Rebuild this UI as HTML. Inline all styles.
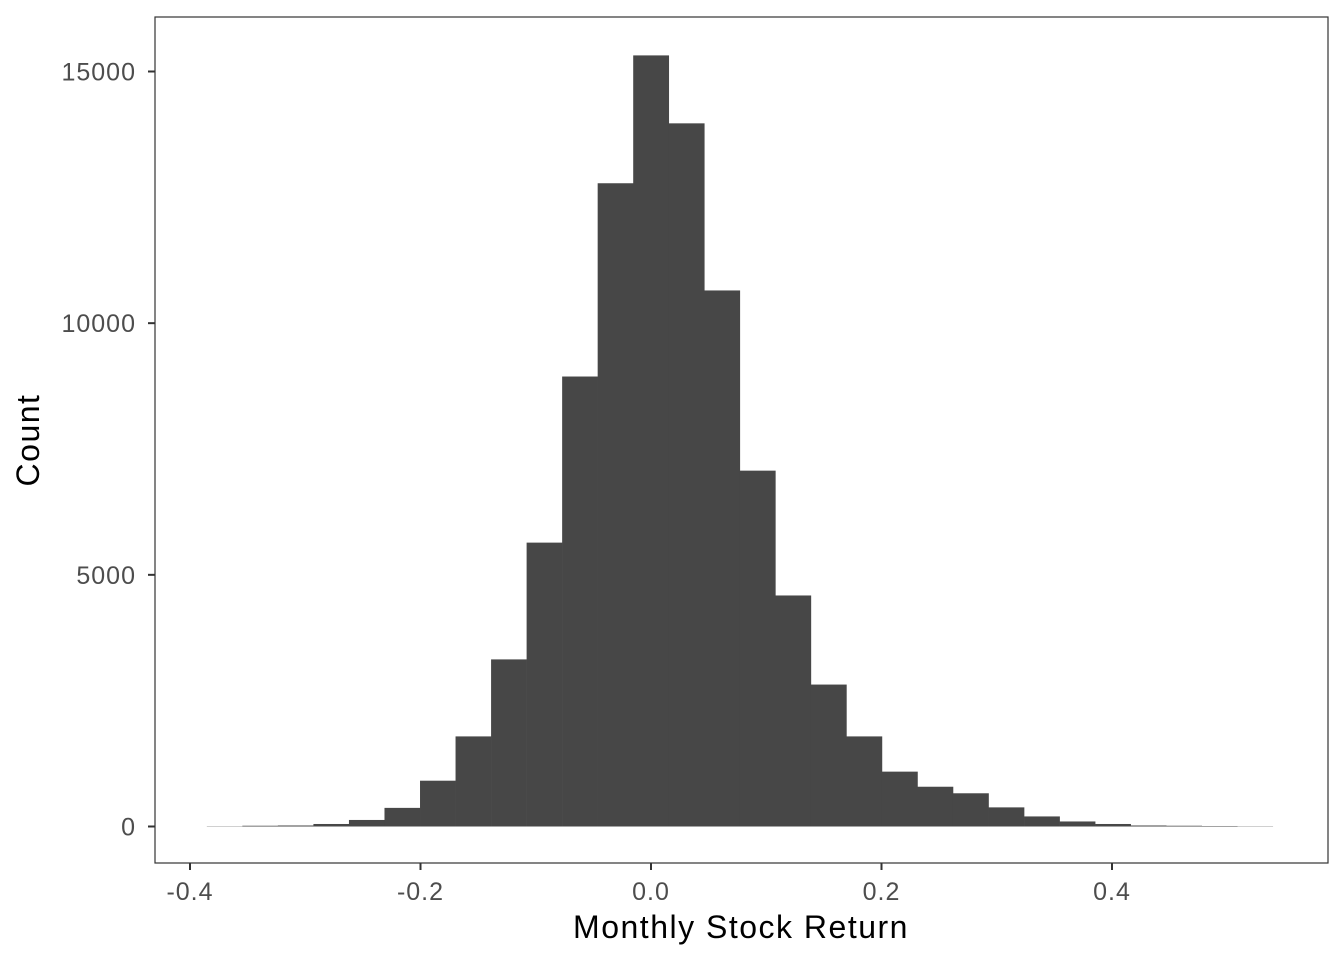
<!DOCTYPE html>
<html><head><meta charset="utf-8"><style>
body{margin:0;background:#fff}
svg text{font-family:"Liberation Sans",sans-serif}
</style></head><body>
<svg width="1344" height="960" xmlns="http://www.w3.org/2000/svg">
<rect x="0" y="0" width="1344" height="960" fill="#fff"/>
<g id="bars"></g>
<rect x="155" y="17" width="1173" height="846" fill="none" stroke="#333" stroke-width="1.2"/>
<g id="axes"></g>
<text x="741" y="938" font-size="32" letter-spacing="1.5" text-anchor="middle" fill="#000">Monthly Stock Return</text>
<text transform="translate(39,440) rotate(-90)" font-size="32" letter-spacing="1.5" text-anchor="middle" fill="#000">Count</text>
</svg>
<script>
const counts=[5,15,20,50,130,370,910,1790,3320,5640,8940,12780,15320,13970,10650,7070,4590,2820,1790,1090,790,660,380,200,100,50,20,15,10,5];
const binStart=-0.3854;
const binWidth=0.03083;
const xTicks=[-0.4,-0.2,0.0,0.2,0.4];
const xTickLabels=["-0.4","-0.2","0.0","0.2","0.4"];
const yTicks=[0,5000,10000,15000];
const yTickLabels=["0","5000","10000","15000"];
const xs=v=>651+(v)*1152.5;
const ys=v=>826.5-v*0.050333;
const NS="http://www.w3.org/2000/svg";
const bars=document.getElementById('bars');
counts.forEach((c,i)=>{
 const r=document.createElementNS(NS,'rect');
 const x0=xs(binStart+i*binWidth),x1=xs(binStart+(i+1)*binWidth);
 r.setAttribute('x',x0);r.setAttribute('width',x1-x0+0.3);
 r.setAttribute('y',ys(c));r.setAttribute('height',ys(0)-ys(c));
 r.setAttribute('fill','#474747');
 
 
 bars.appendChild(r);
});
const axes=document.getElementById('axes');
xTicks.forEach((t,i)=>{
 const l=document.createElementNS(NS,'line');
 l.setAttribute('x1',xs(t));l.setAttribute('x2',xs(t));l.setAttribute('y1',863);l.setAttribute('y2',870);
 l.setAttribute('stroke','#333');l.setAttribute('stroke-width','2');
 
 
 axes.appendChild(l);
 const tx=document.createElementNS(NS,'text');
 tx.setAttribute('x',xs(t));tx.setAttribute('y',900);tx.setAttribute('font-size','25');
 tx.setAttribute('letter-spacing','1');
 tx.setAttribute('text-anchor','middle');tx.setAttribute('fill','#4d4d4d');
 tx.textContent=xTickLabels[i];
 
 
 axes.appendChild(tx);
});
yTicks.forEach((t,i)=>{
 const l=document.createElementNS(NS,'line');
 l.setAttribute('x1',148);l.setAttribute('x2',155);l.setAttribute('y1',ys(t));l.setAttribute('y2',ys(t));
 l.setAttribute('stroke','#333');l.setAttribute('stroke-width','2');
 
 
 axes.appendChild(l);
 const tx=document.createElementNS(NS,'text');
 tx.setAttribute('x',136);tx.setAttribute('y',ys(t)+9);tx.setAttribute('font-size','25');
 tx.setAttribute('letter-spacing','1');
 tx.setAttribute('text-anchor','end');tx.setAttribute('fill','#4d4d4d');
 tx.textContent=yTickLabels[i];
 
 
 axes.appendChild(tx);
});
</script>
</body></html>
